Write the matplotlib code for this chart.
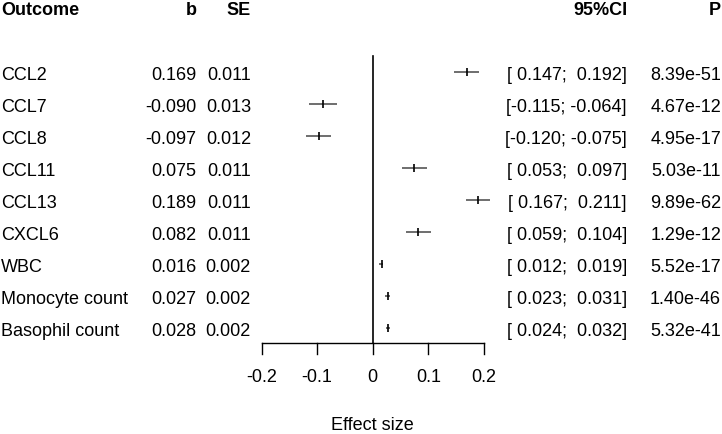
import matplotlib
matplotlib.use("Agg")
import matplotlib.pyplot as plt

outcomes = ["CCL2", "CCL7", "CCL8", "CCL11", "CCL13", "CXCL6", "WBC",
            "Monocyte count", "Basophil count"]
b = [0.169, -0.090, -0.097, 0.075, 0.189, 0.082, 0.016, 0.027, 0.028]
se = [0.011, 0.013, 0.012, 0.011, 0.011, 0.011, 0.002, 0.002, 0.002]
ci_lo = [0.147, -0.115, -0.120, 0.053, 0.167, 0.059, 0.012, 0.023, 0.024]
ci_hi = [0.192, -0.064, -0.075, 0.097, 0.211, 0.104, 0.019, 0.031, 0.032]
pvals = ["8.39e-51", "4.67e-12", "4.95e-17", "5.03e-11", "9.89e-62",
         "1.29e-12", "5.52e-17", "1.40e-46", "5.32e-41"]
xticks = [-0.2, -0.1, 0, 0.1, 0.2]
xtick_labels = ["-0.2", "-0.1", "0", "0.1", "0.2"]

W, H = 722, 434
plt.rcParams['font.family'] = ['Liberation Sans', 'DejaVu Sans']
FS = 13

fig = plt.figure(figsize=(W / 100, H / 100), dpi=100)
ax = fig.add_axes([0, 0, 1, 1])
x0_px, unit_px = 372.7, 556.0
ax.set_xlim(-x0_px / unit_px, (W - x0_px) / unit_px)
ax.set_ylim(H, 0)
ax.axis("off")

row0, step = 71.5, 32.0
rows = [row0 + step * i for i in range(len(outcomes))]
axis_y = 342.7


def ftext(xpx, ypx, s, **kw):
    fig.text(xpx / W, 1 - ypx / H, s, fontsize=FS, **kw)


# headers
hy = 15
ftext(1, hy, "Outcome", ha="left", va="baseline", fontweight="bold")
ftext(197, hy, "b", ha="right", va="baseline", fontweight="bold")
ftext(251, hy, "SE", ha="right", va="baseline", fontweight="bold")
ftext(627, hy, "95%CI", ha="right", va="baseline", fontweight="bold")
ftext(721, hy, "P", ha="right", va="baseline", fontweight="bold")


def fmt(v):
    s = f"{v:.3f}"
    return s if v < 0 else " " + s


for i, y in enumerate(rows):
    by = y + 8.5
    ftext(1, by, outcomes[i], ha="left", va="baseline")
    ftext(196, by, f"{b[i]:.3f}", ha="right", va="baseline")
    ftext(251, by, f"{se[i]:.3f}", ha="right", va="baseline")
    ftext(627, by, f"[{fmt(ci_lo[i])}; {fmt(ci_hi[i])}]", ha="right", va="baseline")
    ftext(721, by, pvals[i], ha="right", va="baseline")
    ax.plot([ci_lo[i], ci_hi[i]], [y, y], color="#555555", lw=1.2,
            solid_capstyle="butt")
    ax.plot([b[i], b[i]], [y - 4, y + 4], color="black", lw=1.2,
            solid_capstyle="butt")

# zero line
ax.plot([0, 0], [rows[0] - step / 2, axis_y], color="black", lw=1.2)

# x axis
ax.plot([xticks[0], xticks[-1]], [axis_y, axis_y], color="black", lw=1.0)
for t, lab in zip(xticks, xtick_labels):
    ax.plot([t, t], [axis_y, axis_y + 11], color="black", lw=1.0)
    ax.text(t, 378, lab, ha="center", va="center", fontsize=FS)
ax.text(0, 426, "Effect size", ha="center", va="center", fontsize=FS)

fig.savefig("out.png", dpi=100)
